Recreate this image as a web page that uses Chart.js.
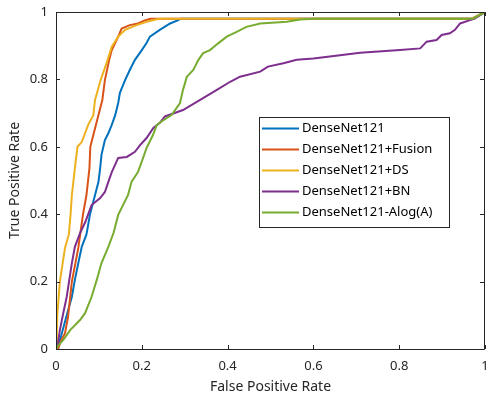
<!DOCTYPE html>
<html lang="en">
<head>
    <meta charset="UTF-8">
    <title>ROC</title>
    <script src="https://cdn.jsdelivr.net/npm/chart.js@4.4.0/dist/chart.umd.min.js"></script>
</head>
<style>
    body {
        margin: 0;
        background: #fff;
    }
</style>
<body>
    <canvas id="grafica" width="486" height="401"></canvas>

    <script>
        const nombres = ["DenseNet121", "DenseNet121+Fusion", "DenseNet121+DS", "DenseNet121+BN", "DenseNet121-Alog(A)"];
        const colores = ["#0072BD", "#D95319", "#EDB120", "#7E2F8E", "#77AC30"];

        const fprBase = [0, 0.003, 0.01, 0.025, 0.037, 0.044, 0.052, 0.06, 0.071, 0.079, 0.091, 0.099, 0.103, 0.106, 0.114, 0.122, 0.130, 0.138, 0.145, 0.149, 0.161, 0.172, 0.184, 0.200, 0.211, 0.219, 0.235, 0.242, 0.266, 0.285, 0.29, 0.97, 1];
        const tprBase = [0, 0, 0.03, 0.10, 0.155, 0.205, 0.255, 0.303, 0.34, 0.398, 0.457, 0.496, 0.537, 0.576, 0.62, 0.64, 0.665, 0.694, 0.73, 0.76, 0.798, 0.828, 0.858, 0.887, 0.908, 0.927, 0.941, 0.947, 0.966, 0.976, 0.98, 0.98, 1];

        const fprFusion = [0, 0.005, 0.01, 0.021, 0.028, 0.037, 0.052, 0.063, 0.071, 0.078, 0.080, 0.087, 0.099, 0.108, 0.114, 0.124, 0.130, 0.138, 0.145, 0.153, 0.172, 0.191, 0.207, 0.22, 0.97, 1];
        const tprFusion = [0, 0, 0.02, 0.047, 0.095, 0.2, 0.3, 0.4, 0.457, 0.537, 0.6, 0.635, 0.694, 0.739, 0.798, 0.858, 0.887, 0.908, 0.927, 0.951, 0.961, 0.966, 0.975, 0.98, 0.98, 1];

        const fprDS = [0, 0.002, 0.003, 0.009, 0.021, 0.030, 0.034, 0.037, 0.044, 0.050, 0.060, 0.075, 0.087, 0.091, 0.104, 0.118, 0.130, 0.145, 0.161, 0.188, 0.211, 0.24, 0.97, 1];
        const tprDS = [0, 0.05, 0.10, 0.2, 0.3, 0.34, 0.40, 0.457, 0.537, 0.6, 0.614, 0.665, 0.694, 0.739, 0.798, 0.849, 0.897, 0.927, 0.947, 0.961, 0.971, 0.98, 0.98, 1];

        const fprBN = [0, 0.005, 0.009, 0.017, 0.025, 0.031, 0.037, 0.044, 0.056, 0.068, 0.083, 0.103, 0.114, 0.122, 0.130, 0.145, 0.165, 0.184, 0.196, 0.211, 0.227, 0.242, 0.254, 0.296, 0.336, 0.375, 0.406, 0.429, 0.476, 0.494, 0.530, 0.561, 0.600, 0.662, 0.709, 0.802, 0.849, 0.864, 0.887, 0.899, 0.918, 0.930, 0.942, 0.965, 0.975, 1];
        const tprBN = [0, 0.02, 0.056, 0.107, 0.155, 0.205, 0.255, 0.303, 0.344, 0.376, 0.427, 0.448, 0.466, 0.496, 0.525, 0.567, 0.57, 0.585, 0.605, 0.626, 0.656, 0.671, 0.69, 0.709, 0.739, 0.769, 0.793, 0.808, 0.823, 0.838, 0.848, 0.858, 0.862, 0.872, 0.879, 0.887, 0.892, 0.912, 0.917, 0.932, 0.937, 0.947, 0.966, 0.976, 0.98, 1];

        const fprAlog = [0, 0.005, 0.017, 0.033, 0.056, 0.068, 0.083, 0.095, 0.106, 0.122, 0.134, 0.145, 0.168, 0.176, 0.191, 0.203, 0.211, 0.226, 0.235, 0.246, 0.27, 0.289, 0.296, 0.305, 0.32, 0.332, 0.343, 0.359, 0.378, 0.398, 0.421, 0.444, 0.476, 0.538, 0.569, 0.6, 0.972, 1];
        const tprAlog = [0, 0.01, 0.027, 0.056, 0.086, 0.107, 0.155, 0.205, 0.255, 0.303, 0.344, 0.398, 0.457, 0.496, 0.525, 0.567, 0.596, 0.635, 0.665, 0.675, 0.695, 0.73, 0.769, 0.808, 0.828, 0.858, 0.878, 0.887, 0.907, 0.927, 0.941, 0.956, 0.966, 0.971, 0.978, 0.98, 0.98, 1];

        const ticksX = [0, 0.2, 0.4, 0.6, 0.8, 1];
        const ticksY = [0, 0.2, 0.4, 0.6, 0.8, 1];
        const etiquetas = ["0", "0.2", "0.4", "0.6", "0.8", "1"];

        const series = [
            [fprBase, tprBase],
            [fprFusion, tprFusion],
            [fprDS, tprDS],
            [fprBN, tprBN],
            [fprAlog, tprAlog],
        ];

        const ejeColor = "#262626";
        const fuente = "'Noto Sans', 'Open Sans', sans-serif";

        // caja tipo MATLAB con ticks hacia adentro + leyenda
        const cajaPlugin = {
            id: "caja",
            afterDatasetsDraw(chart) {
                const ctx = chart.ctx;
                const a = chart.chartArea;
                const sx = chart.scales.x;
                const sy = chart.scales.y;
                ctx.save();
                ctx.strokeStyle = ejeColor;
                ctx.lineWidth = 1;
                ctx.beginPath();
                ctx.rect(Math.round(a.left) + 0.5, Math.round(a.top) + 0.5, Math.round(a.right - a.left) - 1, Math.round(a.bottom - a.top));
                ctx.stroke();
                const tl = 4;
                ctx.beginPath();
                ticksX.forEach((v) => {
                    const px = Math.round(sx.getPixelForValue(v)) + 0.5;
                    ctx.moveTo(px, a.bottom); ctx.lineTo(px, a.bottom - tl);
                    ctx.moveTo(px, a.top); ctx.lineTo(px, a.top + tl);
                });
                ticksY.forEach((v) => {
                    const py = Math.round(sy.getPixelForValue(v)) + 0.5;
                    ctx.moveTo(a.left, py); ctx.lineTo(a.left + tl, py);
                    ctx.moveTo(a.right - 1, py); ctx.lineTo(a.right - 1 - tl, py);
                });
                ctx.stroke();

                // leyenda
                const lx = 259.5, ly = 117.5, lw = 190, lh = 110;
                ctx.fillStyle = "#fff";
                ctx.fillRect(lx, ly, lw, lh);
                ctx.strokeStyle = ejeColor;
                ctx.strokeRect(lx, ly, lw, lh);
                ctx.font = "13px " + fuente;
                ctx.textBaseline = "middle";
                nombres.forEach((n, i) => {
                    const y = 128.5 + i * 21;
                    ctx.strokeStyle = colores[i];
                    ctx.lineWidth = 2;
                    ctx.beginPath();
                    ctx.moveTo(262, y); ctx.lineTo(299, y);
                    ctx.stroke();
                    ctx.fillStyle = "#000";
                    ctx.fillText(n, 302, y);
                });
                ctx.restore();
            },
        };

        const ctx = document.querySelector("#grafica").getContext("2d");
        new Chart(ctx, {
            type: "line",
            data: {
                datasets: series.map((s, i) => ({
                    label: nombres[i],
                    data: s[0].map((x, j) => ({ x: x, y: s[1][j] })),
                    borderColor: colores[i],
                    backgroundColor: colores[i],
                    borderWidth: 2,
                    pointRadius: 0,
                    tension: 0,
                    fill: false,
                    order: 5 - i,
                })),
            },
            options: {
                responsive: false,
                animation: false,
                layout: {
                    autoPadding: false,
                    padding: { top: 12, right: 1, bottom: 0, left: 0 },
                },
                plugins: {
                    legend: { display: false },
                    tooltip: { enabled: false },
                },
                scales: {
                    x: {
                        type: "linear",
                        min: 0,
                        max: 1,
                        afterFit: (s) => { s.height = 52; s.paddingLeft = 0; s.paddingRight = 0; },
                        afterBuildTicks: (s) => { s.ticks = ticksX.map((v) => ({ value: v })); },
                        grid: { display: false, drawTicks: false },
                        border: { display: false },
                        ticks: {
                            padding: 9,
                            color: ejeColor,
                            font: { family: fuente, size: 13 },
                            maxRotation: 0,
                            callback: (v, i) => etiquetas[i],
                        },
                        title: {
                            display: true,
                            text: "False Positive Rate",
                            color: ejeColor,
                            font: { family: fuente, size: 14 },
                            padding: { top: 6, bottom: 6 },
                        },
                    },
                    y: {
                        type: "linear",
                        min: 0,
                        max: 1,
                        afterFit: (s) => { s.width = 56; s.paddingTop = 0; s.paddingBottom = 0; },
                        afterBuildTicks: (s) => { s.ticks = ticksY.map((v) => ({ value: v })); },
                        grid: { display: false, drawTicks: false },
                        border: { display: false },
                        ticks: {
                            padding: 8,
                            color: ejeColor,
                            font: { family: fuente, size: 13 },
                            callback: (v, i) => etiquetas[i],
                        },
                        title: {
                            display: true,
                            text: "True Positive Rate",
                            color: ejeColor,
                            font: { family: fuente, size: 14 },
                            padding: { top: 7, bottom: 6 },
                        },
                    },
                },
            },
            plugins: [cajaPlugin],
        });
    </script>
</body>
</html>
